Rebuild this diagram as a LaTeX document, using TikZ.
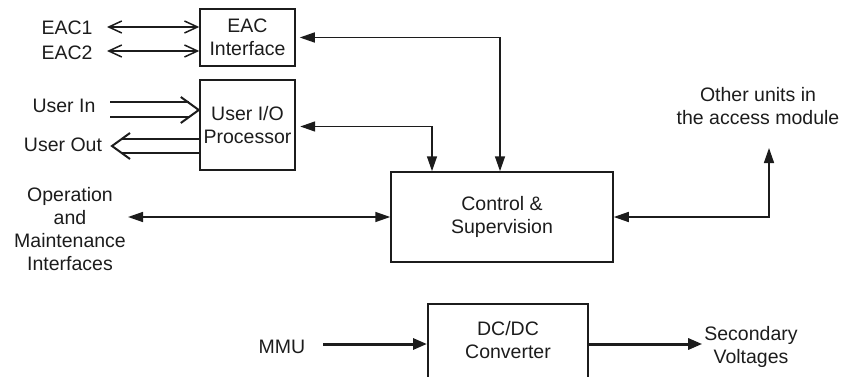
\documentclass[tikz,border=0pt]{standalone}
\usepackage{fontspec}
\setmainfont{Liberation Sans}
\usetikzlibrary{arrows.meta,calc}
\definecolor{ink}{RGB}{28,28,28}
\begin{document}
\begin{tikzpicture}[x=1pt,y=-1pt,
  every node/.style={font=\fontsize{19.5}{23}\selectfont, text=ink},
  blockbox/.style={draw=ink, line width=1.5pt, rectangle, align=center, inner sep=0pt},
  lbl/.style={align=center, inner sep=2pt},
  conn/.style={draw=ink, line width=1.5pt},
  biarr/.style={conn, {Triangle[length=15pt,width=10pt]}-{Triangle[length=15pt,width=10pt]}},
  openarr/.style={conn, {Straight Barb[length=13pt,width=12pt,line width=1.5pt]}-{Straight Barb[length=13pt,width=12pt,line width=1.5pt]}},
  powerarr/.style={draw=ink, line width=3pt, -{Triangle[length=14pt,width=11pt]}},
  chevron/.style={conn, line width=2pt, line join=miter},
]
\useasboundingbox (0,0) rectangle (843,377);
\clip (0,0) rectangle (843,377);

% blocks
\node[blockbox, minimum width=95pt, minimum height=57pt] (eac) at (247.5,37.5) {EAC\\Interface};
\node[blockbox, line width=2.4pt, minimum width=95pt, minimum height=90pt] (uio) at (247.5,125) {User I/O\\Processor};
\node[blockbox, minimum width=222pt, minimum height=90pt] (cs) at (502,217) {Control \&\\Supervision};
\node[blockbox, line width=2pt, minimum width=160pt, minimum height=90pt] (dc) at (508,349) {};
\node (dctext) at (508,340) [align=center] {DC/DC\\Converter};

% outside labels
\node[lbl] (eac1) at (67,28) {EAC1};
\node[lbl] (eac2) at (67,53) {EAC2};
\node[lbl] (uin) at (64,106) {User In};
\node[lbl] (uout) at (63,145) {User Out};
\node[lbl] (om) at (70,229) {Operation\\and\\Maintenance\\Interfaces};
\node[lbl] (other) at (758,106) {Other units in\\the access module};
\node[lbl] (mmu) at (282,347) {MMU};
\node[lbl] (sv) at (751,347) {Secondary\\Voltages};

% free ends
\coordinate (uinstart) at (110,110);
\coordinate (uouttip) at (112,146);
\coordinate (othertip) at (769,148);
\coordinate (uintip) at (uinstart -| uio.west);
\coordinate (uoutstart) at (uouttip -| uio.west);

% EAC links
\draw[openarr] (107,27) coordinate (e1) -- (e1 -| eac.west);
\draw[openarr] (107,51) coordinate (e2) -- (e2 -| eac.west);

% user input: double line into the processor
\draw[chevron] ($(uinstart)+(0,-7.5)$) -- ($(uintip)+(-10,-7.5)$);
\draw[chevron] ($(uinstart)+(0,7.5)$) -- ($(uintip)+(-10,7.5)$);
\draw[chevron] ($(uintip)+(-18,-13)$) -- (uintip) -- ($(uintip)+(-18,13)$);

% user output: double line out of the processor
\draw[chevron] ($(uoutstart)+(0,-7)$) -- ($(uouttip)+(10,-7)$);
\draw[chevron] ($(uoutstart)+(0,7)$) -- ($(uouttip)+(10,7)$);
\draw[chevron] ($(uouttip)+(18,-13)$) -- (uouttip) -- ($(uouttip)+(18,13)$);

% control connections
\draw[biarr] ([xshift=4pt]eac.east) -| ([xshift=-2pt]cs.north);
\draw[biarr] ([xshift=4pt,yshift=-1.5pt]uio.east) -| ([xshift=-70pt]cs.north);
\draw[biarr] (cs.west -| om.east) -- (cs.west);
\draw[biarr] (cs.east) -| (othertip);

% power path
\draw[powerarr] (323,344) coordinate (m) -- (m -| dc.west);
\draw[powerarr] (m -| dc.east) -- (m -| sv.west);
\end{tikzpicture}
\end{document}
